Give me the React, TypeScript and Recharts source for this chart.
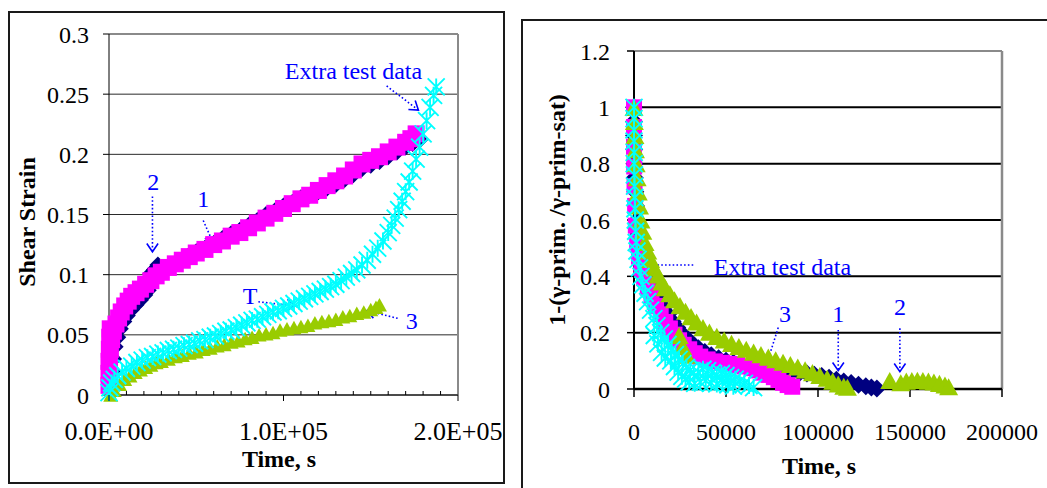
import React from "react";
import {
  ScatterChart,
  Scatter,
  XAxis,
  YAxis,
  CartesianGrid,
  ReferenceLine,
  ReferenceDot,
} from "recharts";

const SERIF = '"Liberation Serif", "Times New Roman", Times, serif';
const NAVY = "#000080";
const PINK = "#ff00ff";
const LIME = "#99cc00";
const AQUA = "#00ffff";
const NOTE = "#0000ff";

// ---- shear strain vs time, rows are [time s, strain]
const strainNavy = [
  [1500, 0.01], [2000, 0.02], [2600, 0.03], [3500, 0.04], [5000, 0.048], [6500, 0.055],
  [8500, 0.061], [10500, 0.066], [13000, 0.071], [15500, 0.075], [18000, 0.079], [20500, 0.083],
  [22500, 0.087], [24000, 0.101], [26000, 0.104], [28000, 0.108], [31000, 0.103], [35000, 0.107],
  [40000, 0.111], [45000, 0.115], [50000, 0.119], [55000, 0.122], [60000, 0.126], [65000, 0.13],
  [70000, 0.134], [75000, 0.137], [80000, 0.141], [85000, 0.145], [90000, 0.15], [95000, 0.153],
  [100000, 0.157], [105000, 0.16], [110000, 0.164], [115000, 0.166], [120000, 0.169], [125000, 0.172],
  [130000, 0.175], [135000, 0.179], [140000, 0.183], [145000, 0.188], [150000, 0.191], [155000, 0.194],
  [160000, 0.198], [165000, 0.202], [170000, 0.206], [174000, 0.209], [178000, 0.212],
];
const strainPink = [
  [0, 0.008], [0, 0.018], [0, 0.028], [200, 0.038], [400, 0.048], [700, 0.055],
  [300, 0.028], [800, 0.038], [1500, 0.046], [2500, 0.053], [4000, 0.059],
  [5500, 0.064], [7000, 0.069], [9000, 0.074], [11000, 0.078], [13000, 0.082], [15500, 0.085],
  [18000, 0.088], [21000, 0.092], [24000, 0.095], [27000, 0.099], [30000, 0.102], [34000, 0.106],
  [38000, 0.109], [42000, 0.112], [46000, 0.115], [50000, 0.118], [55000, 0.121], [60000, 0.125],
  [65000, 0.128], [70000, 0.132], [75000, 0.135], [80000, 0.139], [85000, 0.143], [90000, 0.147],
  [95000, 0.151], [100000, 0.155], [105000, 0.159], [110000, 0.163], [115000, 0.166], [120000, 0.17],
  [125000, 0.174], [130000, 0.178], [135000, 0.182], [140000, 0.187], [145000, 0.192], [150000, 0.195],
  [155000, 0.198], [160000, 0.202], [165000, 0.206], [170000, 0.21], [173000, 0.213], [176000, 0.217],
];
const strainLime = [
  [1000, 0.0], [3000, 0.004], [6000, 0.009], [9000, 0.013], [12000, 0.016], [15000, 0.019],
  [18000, 0.021], [21000, 0.023], [24000, 0.025], [27000, 0.027], [30000, 0.028], [34000, 0.03],
  [38000, 0.032], [42000, 0.033], [46000, 0.035], [50000, 0.036], [54000, 0.038], [58000, 0.039],
  [62000, 0.041], [66000, 0.042], [70000, 0.044], [74000, 0.045], [78000, 0.047], [82000, 0.048],
  [86000, 0.05], [90000, 0.051], [94000, 0.052], [98000, 0.054], [102000, 0.055], [106000, 0.056],
  [110000, 0.057], [114000, 0.058], [118000, 0.06], [122000, 0.061], [126000, 0.062], [130000, 0.063],
  [134000, 0.065], [138000, 0.066], [142000, 0.068], [146000, 0.069], [150000, 0.071], [153000, 0.073],
  [155000, 0.075],
];
const strainAqua = [
  [0, 0.002], [500, 0.006], [1500, 0.01], [3000, 0.013], [5000, 0.016], [7500, 0.019], [10000, 0.022],
  [13000, 0.024], [16000, 0.027], [19000, 0.029], [22000, 0.031], [25000, 0.032], [28000, 0.034],
  [31000, 0.035], [34000, 0.037], [37000, 0.038], [40000, 0.039], [43000, 0.041], [46000, 0.042],
  [49000, 0.043], [52000, 0.045], [55000, 0.046], [58000, 0.048], [61000, 0.049], [64000, 0.051],
  [67000, 0.053], [70000, 0.054], [73000, 0.056], [76000, 0.058], [79000, 0.06], [82000, 0.062],
  [85000, 0.063], [88000, 0.065], [91000, 0.067], [94000, 0.069], [97000, 0.07], [100000, 0.072],
  [103000, 0.074], [106000, 0.076], [109000, 0.078], [112000, 0.08], [115000, 0.082], [118000, 0.084],
  [121000, 0.086], [124000, 0.088], [127000, 0.09], [130000, 0.092], [133000, 0.095], [136000, 0.098],
  [139000, 0.101], [142000, 0.104], [145000, 0.108], [148000, 0.112], [151000, 0.117], [154000, 0.122],
  [157000, 0.128], [160000, 0.135], [162000, 0.141], [164000, 0.147], [166000, 0.154], [168000, 0.161],
  [170000, 0.169], [172000, 0.177], [174000, 0.186], [176000, 0.196], [178000, 0.206], [180000, 0.217],
  [182000, 0.228], [184000, 0.239], [186000, 0.249], [187500, 0.256],
];

// ---- normalised primary strain 1-(g/gsat) vs time, rows are [time s, value]
const normNavy = [
  [0, 1.0], [0, 0.95], [0, 0.9], [100, 0.85], [200, 0.8], [400, 0.75], [700, 0.7], [1100, 0.65],
  [1700, 0.6], [2500, 0.55], [3600, 0.51], [5000, 0.48], [6800, 0.455], [8700, 0.43], [10300, 0.39],
  [12000, 0.355], [14000, 0.32], [16200, 0.29], [18500, 0.265], [21000, 0.24], [23500, 0.218],
  [26000, 0.198], [29000, 0.178], [32000, 0.16], [35000, 0.145], [38500, 0.131], [42000, 0.12],
  [46000, 0.109], [50000, 0.1], [54000, 0.093], [58000, 0.087], [62000, 0.082], [66000, 0.078],
  [70000, 0.074], [74000, 0.071], [78000, 0.068], [82000, 0.065], [86000, 0.062], [90000, 0.058],
  [94000, 0.055], [98000, 0.051], [102000, 0.046], [106000, 0.04], [110000, 0.033], [114000, 0.027],
  [118000, 0.021], [122000, 0.015], [126000, 0.01], [129000, 0.005], [132000, 0.002],
];
const normPink = [
  [0, 1.0], [0, 0.93], [0, 0.86], [100, 0.79], [300, 0.72], [600, 0.65], [1000, 0.58], [1700, 0.52],
  [2700, 0.47], [4000, 0.43], [5500, 0.395], [7500, 0.36], [9500, 0.33], [12000, 0.295],
  [14500, 0.265], [17000, 0.238], [19500, 0.215], [22000, 0.193], [24500, 0.173], [27000, 0.157],
  [30000, 0.141], [33000, 0.127], [36000, 0.115], [40000, 0.105], [44000, 0.098], [48000, 0.093],
  [52000, 0.089], [56000, 0.085], [60000, 0.08], [64000, 0.074], [67000, 0.066], [70000, 0.058],
  [73000, 0.05], [76000, 0.042], [78500, 0.032], [81000, 0.022], [83500, 0.014], [86000, 0.008],
];
const normLime = [
  [0, 1.0], [200, 0.95], [500, 0.9], [800, 0.85], [1200, 0.8], [1700, 0.75], [2300, 0.7], [3000, 0.65],
  [3800, 0.6], [4800, 0.56], [6000, 0.52], [7500, 0.49], [9000, 0.46], [11000, 0.43], [13000, 0.405],
  [15000, 0.38], [17000, 0.36], [19500, 0.338], [22000, 0.317], [25000, 0.296], [28000, 0.276],
  [31000, 0.257], [34000, 0.238], [37500, 0.218], [41000, 0.202], [45000, 0.187], [49000, 0.174],
  [53000, 0.162], [57000, 0.151], [61000, 0.141], [65000, 0.131], [69000, 0.122], [73000, 0.113],
  [77000, 0.104], [81000, 0.095], [85000, 0.087], [89000, 0.078], [93000, 0.068], [97000, 0.058],
  [101000, 0.048], [105000, 0.038], [108000, 0.028], [111000, 0.018], [114000, 0.01], [116000, 0.006],
  [24500, 0.19], [26500, 0.15], [28500, 0.12],
  [139000, 0.03], [145000, 0.022], [148000, 0.028], [151000, 0.03], [154000, 0.031], [157000, 0.03],
  [160000, 0.028], [163000, 0.025], [166000, 0.02], [169000, 0.014], [171000, 0.008],
];
const normAqua = [
  [0, 1.0], [0, 0.96], [0, 0.92], [0, 0.88], [100, 0.84], [100, 0.8], [200, 0.76], [300, 0.72],
  [400, 0.68], [500, 0.64], [700, 0.6], [900, 0.56], [1200, 0.52], [1600, 0.49], [2200, 0.46],
  [3000, 0.43], [3800, 0.4], [4800, 0.37], [6000, 0.34], [7400, 0.31], [9000, 0.28], [10800, 0.25],
  [12500, 0.225], [14500, 0.2], [16500, 0.178], [18500, 0.158], [20500, 0.14], [22500, 0.122],
  [24500, 0.105], [26500, 0.09], [28500, 0.077], [30500, 0.066], [32500, 0.058], [35000, 0.06],
  [37500, 0.07], [40000, 0.065], [42500, 0.058], [45000, 0.05], [47500, 0.055], [50000, 0.048],
  [52500, 0.04], [55000, 0.035], [57500, 0.028], [60000, 0.02], [62500, 0.012], [65000, 0.005],
  [11000, 0.19], [13000, 0.16], [15000, 0.13], [17000, 0.11], [20000, 0.1], [22000, 0.08],
  [24000, 0.06], [26000, 0.045], [28000, 0.035], [30000, 0.025], [33000, 0.02], [36000, 0.025],
  [39000, 0.03], [42000, 0.022], [45000, 0.018], [48000, 0.025], [51000, 0.015], [54000, 0.01],
];

// ---- axis ticks
const strainTicks = [0, 0.05, 0.1, 0.15, 0.2, 0.25, 0.3];
const strainTimeTicks = Array.from({ length: 21 }, (_, i) => i * 10000);
const normTicks = [0, 0.2, 0.4, 0.6, 0.8, 1, 1.2];
const normTimeTicks = [0, 50000, 100000, 150000, 200000];

// ---- callouts: text position, arrow tail, arrow tip (data units)
type Note = { text: string; at: number[]; from: number[]; to: number[] };
const strainNotes: Note[] = [
  { text: "2", at: [25300, 0.177], from: [24900, 0.165], to: [24900, 0.119] },
  { text: "1", at: [54000, 0.163], from: [54000, 0.145], to: [59800, 0.126] },
  { text: "T", at: [80800, 0.083], from: [85600, 0.0775], to: [106600, 0.074] },
  { text: "3", at: [173500, 0.0615], from: [165400, 0.0637], to: [147700, 0.0701] },
  { text: "Extra test data", at: [140100, 0.27], from: [159100, 0.2568], to: [177300, 0.2368] },
];
const normNotes: Note[] = [
  { text: "Extra test data", at: [80700, 0.434], from: [32200, 0.44], to: [4200, 0.44] },
  { text: "3", at: [82100, 0.269], from: [78400, 0.218], to: [70500, 0.0557] },
  { text: "1", at: [111000, 0.269], from: [111000, 0.2095], to: [111000, 0.065] },
  { text: "2", at: [144500, 0.292], from: [144500, 0.2155], to: [144500, 0.0614] },
];

type Pt = { t: number; v: number };
const pts = (rows: number[][]): Pt[] => rows.map(([t, v]) => ({ t, v }));

// ---- marker shapes
const squareMark = (s: number, fill: string) => (p: any) => (
  <rect x={p.cx - s / 2} y={p.cy - s / 2} width={s} height={s} fill={fill} />
);
const diamondMark = (s: number, fill: string) => (p: any) => {
  const r = s / 2;
  return (
    <polygon
      points={`${p.cx},${p.cy - r} ${p.cx + r},${p.cy} ${p.cx},${p.cy + r} ${p.cx - r},${p.cy}`}
      fill={fill}
    />
  );
};
const triangleMark = (s: number, fill: string) => (p: any) => {
  const h = s * 0.9;
  return (
    <polygon
      points={`${p.cx},${p.cy - h / 2} ${p.cx + s / 2},${p.cy + h / 2} ${p.cx - s / 2},${p.cy + h / 2}`}
      fill={fill}
    />
  );
};
const starMark = (s: number, color: string) => (p: any) => {
  const r = s / 2;
  const { cx, cy } = p;
  return (
    <path
      d={`M${cx - r},${cy - r}L${cx + r},${cy + r}M${cx + r},${cy - r}L${cx - r},${cy + r}M${cx},${cy - r}L${cx},${cy + r}`}
      stroke={color}
      strokeWidth={1.9}
      fill="none"
    />
  );
};

// dotted callout with an open arrow head at the tip
function ArrowShape(p: any) {
  const { x1, y1, x2, y2 } = p;
  const a = Math.atan2(y2 - y1, x2 - x1);
  const len = 10;
  const w = 0.6;
  const h1 = `${x2 - len * Math.cos(a - w)},${y2 - len * Math.sin(a - w)}`;
  const h2 = `${x2 - len * Math.cos(a + w)},${y2 - len * Math.sin(a + w)}`;
  return (
    <g>
      <line x1={x1} y1={y1} x2={x2} y2={y2} stroke={NOTE} strokeWidth={1.6} strokeDasharray="1.6 2.2" />
      <polyline points={`${h1} ${x2},${y2} ${h2}`} fill="none" stroke={NOTE} strokeWidth={1.6} />
    </g>
  );
}

const renderNotes = (notes: Note[]) =>
  notes.flatMap((n, i) => [
    <ReferenceLine
      key={`arrow-${i}`}
      segment={[{ x: n.from[0], y: n.from[1] }, { x: n.to[0], y: n.to[1] }]}
      ifOverflow="visible"
      shape={ArrowShape}
    />,
    <ReferenceDot
      key={`text-${i}`}
      x={n.at[0]}
      y={n.at[1]}
      ifOverflow="visible"
      shape={(p: any) => (
        <text x={p.cx} y={p.cy} dy="0.35em" textAnchor="middle" fontFamily={SERIF} fontSize={24} fill={NOTE}>
          {n.text}
        </text>
      )}
    />,
  ]);

const title = (text: string, x: number, y: number, vertical = false) => () => (
  <text
    x={x}
    y={y}
    dy="0.35em"
    textAnchor="middle"
    transform={vertical ? `rotate(-90 ${x} ${y})` : undefined}
    fontFamily={SERIF}
    fontSize={24}
    fontWeight="bold"
    fill="#000"
  >
    {text}
  </text>
);

const sciLabel = (v: number) => {
  const [m, e] = v.toExponential(1).split("e");
  return `${m}E${e[0]}${e.slice(1).padStart(2, "0")}`;
};

// bottom axis of the strain chart: minor ticks point up, labelled majors point down
function StrainTimeTick(props: any) {
  const { x, y, payload } = props;
  const major = payload.value % 100000 === 0;
  return (
    <g>
      <line x1={x} y1={y} x2={x} y2={major ? y + 6 : y - 4} stroke="#000" strokeWidth={1} />
      {major && (
        <text x={x} y={y + 45} textAnchor="middle" fontFamily={SERIF} fontSize={26} fill="#000">
          {sciLabel(payload.value)}
        </text>
      )}
    </g>
  );
}

const tickFont = { fontFamily: SERIF, fontSize: 24, fill: "#000" };

function StrainChart() {
  return (
    <ScatterChart width={515} height={488} margin={{ top: 34, right: 57, bottom: 0, left: 8 }}>
      <CartesianGrid vertical={false} stroke="#2a2a2a" strokeWidth={1} />
      <XAxis
        type="number"
        dataKey="t"
        domain={[0, 200000]}
        ticks={strainTimeTicks}
        interval={0}
        height={93}
        tickSize={0}
        tickMargin={0}
        tickLine={false}
        axisLine={{ stroke: "#000", strokeWidth: 1 }}
        tick={<StrainTimeTick />}
        label={title("Time, s", 279, 459)}
      />
      <YAxis
        type="number"
        dataKey="v"
        domain={[0, 0.3]}
        ticks={strainTicks}
        interval={0}
        width={101}
        tickSize={6}
        tickMargin={14}
        stroke="#000"
        tick={tickFont}
        label={title("Shear Strain", 27, 222, true)}
      />
      <ReferenceLine y={0.3} stroke="#8a8a8a" strokeWidth={2} />
      <ReferenceLine x={200000} stroke="#8a8a8a" strokeWidth={2} />
      <Scatter data={pts(strainNavy)} shape={diamondMark(17, NAVY)} isAnimationActive={false} />
      <Scatter data={pts(strainPink)} shape={squareMark(17, PINK)} isAnimationActive={false} />
      <Scatter data={pts(strainLime)} shape={triangleMark(15, LIME)} isAnimationActive={false} />
      <Scatter data={pts(strainAqua)} shape={starMark(17, AQUA)} isAnimationActive={false} />
      {renderNotes(strainNotes)}
    </ScatterChart>
  );
}

function NormChart() {
  return (
    <ScatterChart width={532} height={488} margin={{ top: 51, right: 45, bottom: 0, left: 8 }}>
      <CartesianGrid vertical={false} stroke="#000" strokeWidth={2} />
      <XAxis
        type="number"
        dataKey="t"
        domain={[0, 200000]}
        ticks={normTimeTicks}
        interval={0}
        height={99}
        tickSize={8}
        tickMargin={26}
        stroke="#000"
        axisLine={{ stroke: "#000", strokeWidth: 2.5 }}
        tickLine={{ stroke: "#000", strokeWidth: 1.5 }}
        tick={tickFont}
        label={title("Time, s", 304, 466)}
      />
      <YAxis
        type="number"
        dataKey="v"
        domain={[0, 1.2]}
        ticks={normTicks}
        interval={0}
        width={111}
        tickSize={7}
        tickMargin={17}
        stroke="#000"
        axisLine={{ stroke: "#000", strokeWidth: 2 }}
        tickLine={{ stroke: "#000", strokeWidth: 1.5 }}
        tick={tickFont}
        label={title("1-(\u03b3-prim. /\u03b3-prim-sat)", 42, 210, true)}
      />
      <ReferenceLine y={1.2} stroke="#8a8a8a" strokeWidth={2} />
      <ReferenceLine x={200000} stroke="#8a8a8a" strokeWidth={2.5} />
      <Scatter data={pts(normNavy)} shape={diamondMark(18, NAVY)} isAnimationActive={false} />
      <Scatter data={pts(normPink)} shape={squareMark(16, PINK)} isAnimationActive={false} />
      <Scatter data={pts(normLime)} shape={triangleMark(19, LIME)} isAnimationActive={false} />
      <Scatter data={pts(normAqua)} shape={starMark(17, AQUA)} isAnimationActive={false} />
      {renderNotes(normNotes)}
    </ScatterChart>
  );
}

export default function App() {
  return (
    <div
      style={{
        position: "fixed",
        left: 0,
        top: 0,
        width: 1047,
        height: 488,
        overflow: "hidden",
        background: "#fff",
        fontFamily: SERIF,
      }}
    >
      <div
        style={{
          position: "absolute",
          left: 8,
          top: 11,
          width: 497,
          height: 473,
          border: "2px solid #1a1a1a",
          boxSizing: "border-box",
        }}
      />
      <div
        style={{
          position: "absolute",
          left: 521,
          top: 19,
          width: 560,
          height: 500,
          border: "2px solid #1a1a1a",
          boxSizing: "border-box",
        }}
      />
      <div style={{ position: "absolute", left: 0, top: 0 }}>
        <StrainChart />
      </div>
      <div style={{ position: "absolute", left: 515, top: 0 }}>
        <NormChart />
      </div>
    </div>
  );
}
